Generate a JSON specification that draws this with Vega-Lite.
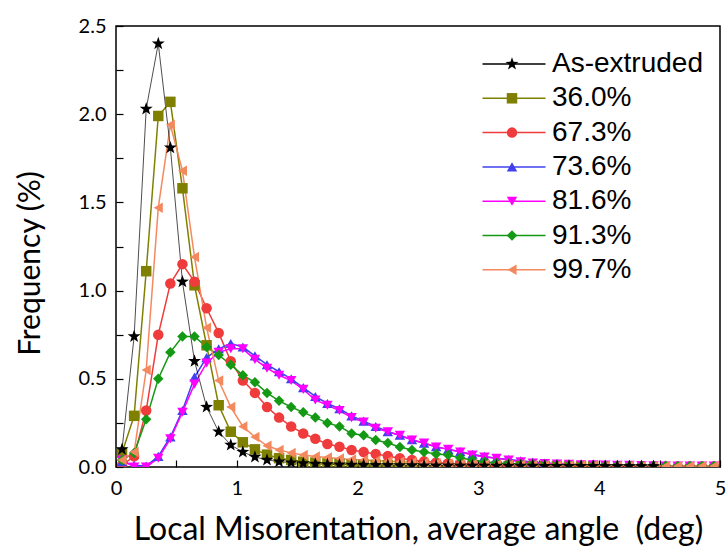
{
"$schema":"https://vega.github.io/schema/vega-lite/v6.json",
"width":604,"height":441,
"autosize":{"type":"none"},
"padding":{"left":116,"top":26,"right":6,"bottom":82},
"background":"white",
"config":{"view":{"stroke":"black","strokeWidth":1.5},
"axis":{"grid":false,"domain":false,"tickColor":"black","tickWidth":1.2,"tickSize":-7,"labelColor":"black","labelFont":"Lato","labelFontSize":20,"titleFont":"Lato","titleFontSize":31,"titleFontWeight":"normal","titleColor":"black"}},
"data":{"values":[
{"s":"36.0%","x":0.05,"y":0.08},{"s":"36.0%","x":0.15,"y":0.29},{"s":"36.0%","x":0.25,"y":1.11},{"s":"36.0%","x":0.35,"y":1.99},{"s":"36.0%","x":0.45,"y":2.07},{"s":"36.0%","x":0.55,"y":1.58},{"s":"36.0%","x":0.65,"y":1.03},{"s":"36.0%","x":0.75,"y":0.69},{"s":"36.0%","x":0.85,"y":0.35},{"s":"36.0%","x":0.95,"y":0.2},
{"s":"36.0%","x":1.05,"y":0.14},{"s":"36.0%","x":1.15,"y":0.1},{"s":"36.0%","x":1.25,"y":0.07},{"s":"36.0%","x":1.35,"y":0.05},{"s":"36.0%","x":1.45,"y":0.04},{"s":"36.0%","x":1.55,"y":0.03},{"s":"36.0%","x":1.65,"y":0.025},{"s":"36.0%","x":1.75,"y":0.02},{"s":"36.0%","x":1.85,"y":0.018},{"s":"36.0%","x":1.95,"y":0.015},
{"s":"36.0%","x":2.05,"y":0.013},{"s":"36.0%","x":2.15,"y":0.012},{"s":"36.0%","x":2.25,"y":0.011},{"s":"36.0%","x":2.35,"y":0.01},{"s":"36.0%","x":2.45,"y":0.009},{"s":"36.0%","x":2.55,"y":0.008},{"s":"36.0%","x":2.65,"y":0.008},{"s":"36.0%","x":2.75,"y":0.007},{"s":"36.0%","x":2.85,"y":0.007},{"s":"36.0%","x":2.95,"y":0.006},
{"s":"36.0%","x":3.05,"y":0.006},{"s":"36.0%","x":3.15,"y":0.005},{"s":"36.0%","x":3.25,"y":0.005},{"s":"36.0%","x":3.35,"y":0.005},{"s":"36.0%","x":3.45,"y":0.004},{"s":"36.0%","x":3.55,"y":0.004},{"s":"36.0%","x":3.65,"y":0.004},{"s":"36.0%","x":3.75,"y":0.003},{"s":"36.0%","x":3.85,"y":0.003},{"s":"36.0%","x":3.95,"y":0.003},

{"s":"67.3%","x":0.05,"y":0.01},{"s":"67.3%","x":0.15,"y":0.06},{"s":"67.3%","x":0.25,"y":0.32},{"s":"67.3%","x":0.35,"y":0.75},{"s":"67.3%","x":0.45,"y":1.04},{"s":"67.3%","x":0.55,"y":1.15},{"s":"67.3%","x":0.65,"y":1.05},{"s":"67.3%","x":0.75,"y":0.9},{"s":"67.3%","x":0.85,"y":0.76},{"s":"67.3%","x":0.95,"y":0.6},
{"s":"67.3%","x":1.05,"y":0.49},{"s":"67.3%","x":1.15,"y":0.42},{"s":"67.3%","x":1.25,"y":0.34},{"s":"67.3%","x":1.35,"y":0.28},{"s":"67.3%","x":1.45,"y":0.23},{"s":"67.3%","x":1.55,"y":0.19},{"s":"67.3%","x":1.65,"y":0.16},{"s":"67.3%","x":1.75,"y":0.13},{"s":"67.3%","x":1.85,"y":0.115},{"s":"67.3%","x":1.95,"y":0.096},
{"s":"67.3%","x":2.05,"y":0.085},{"s":"67.3%","x":2.15,"y":0.074},{"s":"67.3%","x":2.25,"y":0.062},{"s":"67.3%","x":2.35,"y":0.05},{"s":"67.3%","x":2.45,"y":0.04},{"s":"67.3%","x":2.55,"y":0.032},{"s":"67.3%","x":2.65,"y":0.026},{"s":"67.3%","x":2.75,"y":0.021},{"s":"67.3%","x":2.85,"y":0.017},{"s":"67.3%","x":2.95,"y":0.014},
{"s":"67.3%","x":3.05,"y":0.012},{"s":"67.3%","x":3.15,"y":0.01},{"s":"67.3%","x":3.25,"y":0.009},{"s":"67.3%","x":3.35,"y":0.008},{"s":"67.3%","x":3.45,"y":0.007},{"s":"67.3%","x":3.55,"y":0.007},{"s":"67.3%","x":3.65,"y":0.006},{"s":"67.3%","x":3.75,"y":0.006},{"s":"67.3%","x":3.85,"y":0.005},{"s":"67.3%","x":3.95,"y":0.005},
{"s":"67.3%","x":4.05,"y":0.005},{"s":"67.3%","x":4.15,"y":0.004},{"s":"67.3%","x":4.25,"y":0.004},{"s":"67.3%","x":4.35,"y":0.004},{"s":"67.3%","x":4.45,"y":0.004},{"s":"67.3%","x":4.55,"y":0.003},{"s":"67.3%","x":4.65,"y":0.003},{"s":"67.3%","x":4.75,"y":0.003},{"s":"67.3%","x":4.85,"y":0.003},{"s":"67.3%","x":4.95,"y":0.003},

{"s":"73.6%","x":0.05,"y":0.03},{"s":"73.6%","x":0.15,"y":0.01},{"s":"73.6%","x":0.25,"y":0.005},{"s":"73.6%","x":0.35,"y":0.06},{"s":"73.6%","x":0.45,"y":0.17},{"s":"73.6%","x":0.55,"y":0.32},{"s":"73.6%","x":0.65,"y":0.51},{"s":"73.6%","x":0.75,"y":0.62},{"s":"73.6%","x":0.85,"y":0.67},{"s":"73.6%","x":0.95,"y":0.7},
{"s":"73.6%","x":1.05,"y":0.68},{"s":"73.6%","x":1.15,"y":0.63},{"s":"73.6%","x":1.25,"y":0.58},{"s":"73.6%","x":1.35,"y":0.54},{"s":"73.6%","x":1.45,"y":0.5},{"s":"73.6%","x":1.55,"y":0.45},{"s":"73.6%","x":1.65,"y":0.4},{"s":"73.6%","x":1.75,"y":0.36},{"s":"73.6%","x":1.85,"y":0.33},{"s":"73.6%","x":1.95,"y":0.29},
{"s":"73.6%","x":2.05,"y":0.26},{"s":"73.6%","x":2.15,"y":0.23},{"s":"73.6%","x":2.25,"y":0.2},{"s":"73.6%","x":2.35,"y":0.18},{"s":"73.6%","x":2.45,"y":0.155},{"s":"73.6%","x":2.55,"y":0.135},{"s":"73.6%","x":2.65,"y":0.115},{"s":"73.6%","x":2.75,"y":0.1},{"s":"73.6%","x":2.85,"y":0.087},{"s":"73.6%","x":2.95,"y":0.072},
{"s":"73.6%","x":3.05,"y":0.06},{"s":"73.6%","x":3.15,"y":0.05},{"s":"73.6%","x":3.25,"y":0.042},{"s":"73.6%","x":3.35,"y":0.035},{"s":"73.6%","x":3.45,"y":0.028},{"s":"73.6%","x":3.55,"y":0.023},{"s":"73.6%","x":3.65,"y":0.019},{"s":"73.6%","x":3.75,"y":0.016},{"s":"73.6%","x":3.85,"y":0.013},{"s":"73.6%","x":3.95,"y":0.011},
{"s":"73.6%","x":4.05,"y":0.01},{"s":"73.6%","x":4.15,"y":0.009},{"s":"73.6%","x":4.25,"y":0.008},{"s":"73.6%","x":4.35,"y":0.007},{"s":"73.6%","x":4.45,"y":0.006},{"s":"73.6%","x":4.55,"y":0.006},{"s":"73.6%","x":4.65,"y":0.005},{"s":"73.6%","x":4.75,"y":0.005},{"s":"73.6%","x":4.85,"y":0.005},{"s":"73.6%","x":4.95,"y":0.004},

{"s":"81.6%","x":0.05,"y":0.04},{"s":"81.6%","x":0.15,"y":0.0},{"s":"81.6%","x":0.25,"y":0.0},{"s":"81.6%","x":0.35,"y":0.05},{"s":"81.6%","x":0.45,"y":0.16},{"s":"81.6%","x":0.55,"y":0.31},{"s":"81.6%","x":0.65,"y":0.47},{"s":"81.6%","x":0.75,"y":0.59},{"s":"81.6%","x":0.85,"y":0.65},{"s":"81.6%","x":0.95,"y":0.67},
{"s":"81.6%","x":1.05,"y":0.67},{"s":"81.6%","x":1.15,"y":0.61},{"s":"81.6%","x":1.25,"y":0.56},{"s":"81.6%","x":1.35,"y":0.52},{"s":"81.6%","x":1.45,"y":0.49},{"s":"81.6%","x":1.55,"y":0.44},{"s":"81.6%","x":1.65,"y":0.38},{"s":"81.6%","x":1.75,"y":0.35},{"s":"81.6%","x":1.85,"y":0.32},{"s":"81.6%","x":1.95,"y":0.28},
{"s":"81.6%","x":2.05,"y":0.255},{"s":"81.6%","x":2.15,"y":0.22},{"s":"81.6%","x":2.25,"y":0.2},{"s":"81.6%","x":2.35,"y":0.18},{"s":"81.6%","x":2.45,"y":0.153},{"s":"81.6%","x":2.55,"y":0.136},{"s":"81.6%","x":2.65,"y":0.113},{"s":"81.6%","x":2.75,"y":0.1},{"s":"81.6%","x":2.85,"y":0.085},{"s":"81.6%","x":2.95,"y":0.068},
{"s":"81.6%","x":3.05,"y":0.057},{"s":"81.6%","x":3.15,"y":0.05},{"s":"81.6%","x":3.25,"y":0.04},{"s":"81.6%","x":3.35,"y":0.03},{"s":"81.6%","x":3.45,"y":0.023},{"s":"81.6%","x":3.55,"y":0.02},{"s":"81.6%","x":3.65,"y":0.017},{"s":"81.6%","x":3.75,"y":0.015},{"s":"81.6%","x":3.85,"y":0.013},{"s":"81.6%","x":3.95,"y":0.012},
{"s":"81.6%","x":4.05,"y":0.011},{"s":"81.6%","x":4.15,"y":0.01},{"s":"81.6%","x":4.25,"y":0.009},{"s":"81.6%","x":4.35,"y":0.008},{"s":"81.6%","x":4.45,"y":0.007},{"s":"81.6%","x":4.55,"y":0.006},{"s":"81.6%","x":4.65,"y":0.006},{"s":"81.6%","x":4.75,"y":0.005},{"s":"81.6%","x":4.85,"y":0.005},{"s":"81.6%","x":4.95,"y":0.005},

{"s":"91.3%","x":0.05,"y":0.04},{"s":"91.3%","x":0.15,"y":0.08},{"s":"91.3%","x":0.25,"y":0.27},{"s":"91.3%","x":0.35,"y":0.5},{"s":"91.3%","x":0.45,"y":0.65},{"s":"91.3%","x":0.55,"y":0.74},{"s":"91.3%","x":0.65,"y":0.74},{"s":"91.3%","x":0.75,"y":0.68},{"s":"91.3%","x":0.85,"y":0.635},{"s":"91.3%","x":0.95,"y":0.58},
{"s":"91.3%","x":1.05,"y":0.52},{"s":"91.3%","x":1.15,"y":0.48},{"s":"91.3%","x":1.25,"y":0.42},{"s":"91.3%","x":1.35,"y":0.375},{"s":"91.3%","x":1.45,"y":0.34},{"s":"91.3%","x":1.55,"y":0.31},{"s":"91.3%","x":1.65,"y":0.28},{"s":"91.3%","x":1.75,"y":0.25},{"s":"91.3%","x":1.85,"y":0.23},{"s":"91.3%","x":1.95,"y":0.19},
{"s":"91.3%","x":2.05,"y":0.18},{"s":"91.3%","x":2.15,"y":0.153},{"s":"91.3%","x":2.25,"y":0.136},{"s":"91.3%","x":2.35,"y":0.113},{"s":"91.3%","x":2.45,"y":0.096},{"s":"91.3%","x":2.55,"y":0.085},{"s":"91.3%","x":2.65,"y":0.074},{"s":"91.3%","x":2.75,"y":0.068},{"s":"91.3%","x":2.85,"y":0.051},{"s":"91.3%","x":2.95,"y":0.04},
{"s":"91.3%","x":3.05,"y":0.03},{"s":"91.3%","x":3.15,"y":0.023},{"s":"91.3%","x":3.25,"y":0.02},{"s":"91.3%","x":3.35,"y":0.017},{"s":"91.3%","x":3.45,"y":0.015},{"s":"91.3%","x":3.55,"y":0.013},{"s":"91.3%","x":3.65,"y":0.012},{"s":"91.3%","x":3.75,"y":0.011},{"s":"91.3%","x":3.85,"y":0.01},{"s":"91.3%","x":3.95,"y":0.009},
{"s":"91.3%","x":4.05,"y":0.009},{"s":"91.3%","x":4.15,"y":0.008},{"s":"91.3%","x":4.25,"y":0.008},{"s":"91.3%","x":4.35,"y":0.007},{"s":"91.3%","x":4.45,"y":0.007},{"s":"91.3%","x":4.55,"y":0.007},{"s":"91.3%","x":4.65,"y":0.006},{"s":"91.3%","x":4.75,"y":0.006},{"s":"91.3%","x":4.85,"y":0.006},{"s":"91.3%","x":4.95,"y":0.006},

{"s":"99.7%","x":0.05,"y":0.04},{"s":"99.7%","x":0.15,"y":0.085},{"s":"99.7%","x":0.25,"y":0.55},{"s":"99.7%","x":0.35,"y":1.47},{"s":"99.7%","x":0.45,"y":1.94},{"s":"99.7%","x":0.55,"y":1.68},{"s":"99.7%","x":0.65,"y":1.19},{"s":"99.7%","x":0.75,"y":0.79},{"s":"99.7%","x":0.85,"y":0.49},{"s":"99.7%","x":0.95,"y":0.34},
{"s":"99.7%","x":1.05,"y":0.23},{"s":"99.7%","x":1.15,"y":0.17},{"s":"99.7%","x":1.25,"y":0.12},{"s":"99.7%","x":1.35,"y":0.096},{"s":"99.7%","x":1.45,"y":0.08},{"s":"99.7%","x":1.55,"y":0.068},{"s":"99.7%","x":1.65,"y":0.06},{"s":"99.7%","x":1.75,"y":0.054},{"s":"99.7%","x":1.85,"y":0.048},{"s":"99.7%","x":1.95,"y":0.043},
{"s":"99.7%","x":2.05,"y":0.04},{"s":"99.7%","x":2.15,"y":0.036},{"s":"99.7%","x":2.25,"y":0.033},{"s":"99.7%","x":2.35,"y":0.03},{"s":"99.7%","x":2.45,"y":0.027},{"s":"99.7%","x":2.55,"y":0.024},{"s":"99.7%","x":2.65,"y":0.021},{"s":"99.7%","x":2.75,"y":0.019},{"s":"99.7%","x":2.85,"y":0.017},{"s":"99.7%","x":2.95,"y":0.015},
{"s":"99.7%","x":3.05,"y":0.014},{"s":"99.7%","x":3.15,"y":0.013},{"s":"99.7%","x":3.25,"y":0.012},{"s":"99.7%","x":3.35,"y":0.011},{"s":"99.7%","x":3.45,"y":0.01},{"s":"99.7%","x":3.55,"y":0.01},{"s":"99.7%","x":3.65,"y":0.009},{"s":"99.7%","x":3.75,"y":0.009},{"s":"99.7%","x":3.85,"y":0.008},{"s":"99.7%","x":3.95,"y":0.008},
{"s":"99.7%","x":4.05,"y":0.007},{"s":"99.7%","x":4.15,"y":0.007},{"s":"99.7%","x":4.25,"y":0.007},{"s":"99.7%","x":4.35,"y":0.006},{"s":"99.7%","x":4.45,"y":0.006},{"s":"99.7%","x":4.55,"y":0.006},{"s":"99.7%","x":4.65,"y":0.005},{"s":"99.7%","x":4.75,"y":0.005},{"s":"99.7%","x":4.85,"y":0.005},{"s":"99.7%","x":4.95,"y":0.005},

{"s":"As-extruded","x":0.05,"y":0.1},{"s":"As-extruded","x":0.15,"y":0.74},{"s":"As-extruded","x":0.25,"y":2.03},{"s":"As-extruded","x":0.35,"y":2.4},{"s":"As-extruded","x":0.45,"y":1.81},{"s":"As-extruded","x":0.55,"y":1.05},{"s":"As-extruded","x":0.65,"y":0.6},{"s":"As-extruded","x":0.75,"y":0.34},{"s":"As-extruded","x":0.85,"y":0.2},{"s":"As-extruded","x":0.95,"y":0.125},
{"s":"As-extruded","x":1.05,"y":0.085},{"s":"As-extruded","x":1.15,"y":0.057},{"s":"As-extruded","x":1.25,"y":0.04},{"s":"As-extruded","x":1.35,"y":0.03},{"s":"As-extruded","x":1.45,"y":0.025},{"s":"As-extruded","x":1.55,"y":0.02},{"s":"As-extruded","x":1.65,"y":0.017},{"s":"As-extruded","x":1.75,"y":0.015},{"s":"As-extruded","x":1.85,"y":0.013},{"s":"As-extruded","x":1.95,"y":0.012},
{"s":"As-extruded","x":2.05,"y":0.011},{"s":"As-extruded","x":2.15,"y":0.01},{"s":"As-extruded","x":2.25,"y":0.01},{"s":"As-extruded","x":2.35,"y":0.009},{"s":"As-extruded","x":2.45,"y":0.009},{"s":"As-extruded","x":2.55,"y":0.008},{"s":"As-extruded","x":2.65,"y":0.008},{"s":"As-extruded","x":2.75,"y":0.008},{"s":"As-extruded","x":2.85,"y":0.007},{"s":"As-extruded","x":2.95,"y":0.007},
{"s":"As-extruded","x":3.05,"y":0.007},{"s":"As-extruded","x":3.15,"y":0.006},{"s":"As-extruded","x":3.25,"y":0.006},{"s":"As-extruded","x":3.35,"y":0.006},{"s":"As-extruded","x":3.45,"y":0.006},{"s":"As-extruded","x":3.55,"y":0.005},{"s":"As-extruded","x":3.65,"y":0.005},{"s":"As-extruded","x":3.75,"y":0.005},{"s":"As-extruded","x":3.85,"y":0.005},{"s":"As-extruded","x":3.95,"y":0.005},
{"s":"As-extruded","x":4.05,"y":0.004},{"s":"As-extruded","x":4.15,"y":0.004},{"s":"As-extruded","x":4.25,"y":0.004},{"s":"As-extruded","x":4.35,"y":0.004},{"s":"As-extruded","x":4.45,"y":0.004}
]},
"encoding":{
"x":{"field":"x","type":"quantitative","scale":{"domain":[0,5],"nice":false,"zero":false},
"axis":{"title":"Local Misorentation, average angle \u00a0(deg)","titleFontSize":32,"values":[0,0.5,1,1.5,2,2.5,3,3.5,4,4.5,5],"labelExpr":"datum.value % 1 === 0 ? format(datum.value, 'd') : ''","labelPadding":18,"titlePadding":16,"labelFlush":false}},
"y":{"field":"y","type":"quantitative","scale":{"domain":[0,2.5],"nice":false,"zero":false},
"axis":{"title":"Frequency (%)","titleFontSize":30,"titleY":237,"values":[0,0.25,0.5,0.75,1,1.25,1.5,1.75,2,2.25,2.5],"labelExpr":"datum.value % 0.5 === 0 ? format(datum.value, '.1f') : ''","labelPadding":17,"titlePadding":33,"labelFlush":false}}
},
"layer":[
{"mark":{"type":"line","clip":true},
"encoding":{
"stroke":{"field":"s","type":"nominal",
"scale":{"domain":["As-extruded","36.0%","67.3%","73.6%","81.6%","91.3%","99.7%"],"range":["#000000","#808000","#EF3B3B","#4040EE","#FF00FF","#139913","#F4895F"]},
"legend":{"orient":"none","legendX":384,"legendY":24,"title":null,"symbolType":"M-15.75,0H15.75","symbolSize":16,"symbolStrokeWidth":1.5,"symbolFillColor":"transparent","labelFont":"Liberation Sans","labelFontSize":28,"labelOffset":26,"labelExpr":"''","rowPadding":6.3}},
"strokeWidth":{"condition":{"test":"datum.s === 'As-extruded'","value":0.7},"value":1.5}}},
{"mark":{"type":"point","filled":true,"size":110,"opacity":1,"strokeWidth":0,"clip":true},
"encoding":{
"fill":{"field":"s","type":"nominal",
"scale":{"domain":["As-extruded","36.0%","67.3%","73.6%","81.6%","91.3%","99.7%"],"range":["#000000","#808000","#EF3B3B","#4040EE","#FF00FF","#139913","#F4895F"]},
"legend":{"orient":"none","legendX":382,"legendY":24,"title":null,"symbolSize":110,"symbolStrokeWidth":0,"symbolOpacity":1,"labelFont":"Liberation Sans","labelFontSize":28,"labelColor":"black","labelOffset":26,"rowPadding":6.3}},
"shape":{"field":"s","type":"nominal",
"scale":{"domain":["As-extruded","36.0%","67.3%","73.6%","81.6%","91.3%","99.7%"],"range":["M0,-1.3L0.306,-0.421L1.236,-0.402L0.494,0.161L0.764,1.052L0,0.52L-0.764,1.052L-0.494,0.161L-1.236,-0.402L-0.306,-0.421Z","square","circle","triangle-up","triangle-down","diamond","triangle-left"]},
"legend":{"orient":"none","legendX":382,"legendY":24,"title":null,"symbolSize":110,"symbolStrokeWidth":0,"symbolOpacity":1,"labelFont":"Liberation Sans","labelFontSize":28,"labelColor":"black","labelOffset":26,"rowPadding":6.3}}}}
],
"resolve":{"legend":{"stroke":"independent","fill":"independent","shape":"independent"}}
}
